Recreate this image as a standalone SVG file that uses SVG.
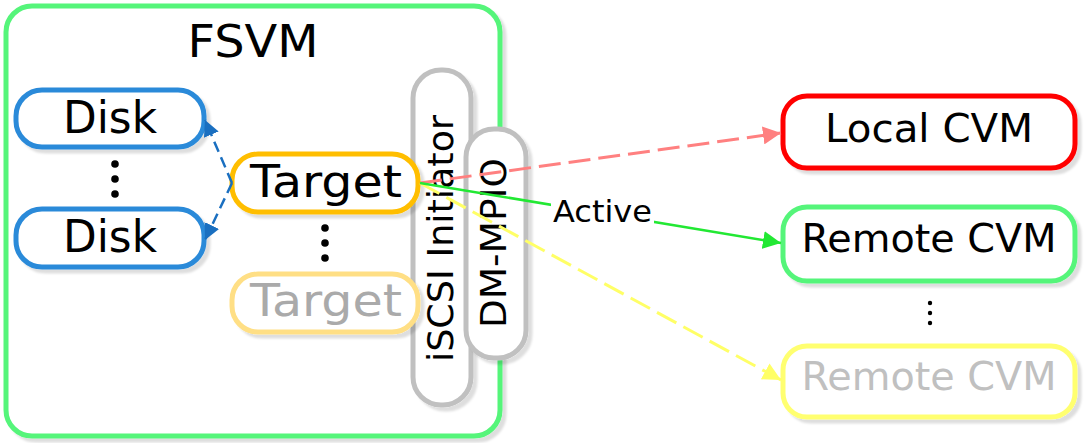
<svg xmlns="http://www.w3.org/2000/svg" width="1084" height="443" viewBox="0 0 1084 443">
<style>
text{font-family:"DejaVu Sans","Liberation Sans",sans-serif;fill:#000;}
.box{fill:#fff;stroke-width:5;filter:url(#sh);}
.dot{fill:#000;}
.faint{fill:#aaaaaa;}
.conn{fill:none;}
</style>
<defs>
<filter id="sh" x="-10%" y="-10%" width="130%" height="130%">
<feDropShadow dx="4" dy="4" stdDeviation="0.8" flood-color="#000" flood-opacity="0.13"/>
</filter>
<marker id="aBlue" viewBox="0 0 10 10" refX="10" refY="5" markerWidth="16" markerHeight="16" markerUnits="userSpaceOnUse" orient="auto"><path d="M0,0 L10,5 L0,10 Z" fill="#1a6fc0"/></marker>
<marker id="aRed" viewBox="0 0 10 10" refX="10" refY="5" markerWidth="18" markerHeight="18" markerUnits="userSpaceOnUse" orient="auto"><path d="M0,0 L10,5 L0,10 Z" fill="#ff8080"/></marker>
<marker id="aGreen" viewBox="0 0 10 10" refX="10" refY="5" markerWidth="18" markerHeight="18" markerUnits="userSpaceOnUse" orient="auto"><path d="M0,0 L10,5 L0,10 Z" fill="#22e833"/></marker>
<marker id="aYellow" viewBox="0 0 10 10" refX="10" refY="5" markerWidth="18" markerHeight="18" markerUnits="userSpaceOnUse" orient="auto"><path d="M0,0 L10,5 L0,10 Z" fill="#ffff66"/></marker>
</defs>

<g id="fsvm">
<rect class="box" x="6" y="6" width="494" height="430" rx="26" stroke="#55f57a"/>
<text x="253" y="57" font-size="44" text-anchor="middle" textLength="131" lengthAdjust="spacingAndGlyphs">FSVM</text>
</g>

<g id="iscsi">
<rect class="box" x="413" y="70" width="58" height="335" rx="28" stroke="#c0c0c0"/>
<text transform="translate(453,238.5) rotate(-90)" font-size="36" text-anchor="middle" textLength="247" lengthAdjust="spacingAndGlyphs">iSCSI Initiator</text>
</g>

<g id="dmmpio">
<rect class="box" x="466" y="129" width="60" height="229" rx="28" stroke="#c0c0c0"/>
<text transform="translate(506,243) rotate(-90)" font-size="36" text-anchor="middle" textLength="170" lengthAdjust="spacingAndGlyphs">DM-MPIO</text>
</g>

<g id="disk1">
<rect class="box" x="16" y="90" width="188" height="57" rx="26" stroke="#2b8ad9"/>
<text x="110" y="133" font-size="45" text-anchor="middle" textLength="94" lengthAdjust="spacingAndGlyphs">Disk</text>
</g>
<g id="disk-dots">
<circle class="dot" cx="115" cy="164" r="3.8"/>
<circle class="dot" cx="115" cy="179" r="3.8"/>
<circle class="dot" cx="115" cy="194" r="3.8"/>
</g>
<g id="disk2">
<rect class="box" x="16" y="209" width="188" height="58" rx="26" stroke="#2b8ad9"/>
<text x="110" y="252" font-size="45" text-anchor="middle" textLength="94" lengthAdjust="spacingAndGlyphs">Disk</text>
</g>

<g id="target1">
<rect class="box" x="232" y="154" width="186" height="58" rx="26" stroke="#ffbe00"/>
<text x="326" y="197" font-size="44" text-anchor="middle" textLength="152" lengthAdjust="spacingAndGlyphs">Target</text>
</g>
<g id="target-dots">
<circle class="dot" cx="325" cy="228" r="3.8"/>
<circle class="dot" cx="325" cy="243" r="3.8"/>
<circle class="dot" cx="325" cy="258" r="3.8"/>
</g>
<g id="target2">
<rect class="box" x="232" y="274" width="186" height="58" rx="26" stroke="#ffdf85"/>
<text class="faint" x="326" y="316" font-size="44" text-anchor="middle" textLength="152" lengthAdjust="spacingAndGlyphs">Target</text>
</g>

<g id="local-cvm">
<rect class="box" x="783" y="96" width="292" height="72" rx="24" stroke="#ff0000"/>
<text x="929" y="142" font-size="39" text-anchor="middle" textLength="208" lengthAdjust="spacingAndGlyphs">Local CVM</text>
</g>

<g id="remote-cvm1">
<rect class="box" x="783" y="207" width="292" height="74" rx="24" stroke="#55f57a"/>
<text x="929" y="252" font-size="39" text-anchor="middle" textLength="255" lengthAdjust="spacingAndGlyphs">Remote CVM</text>
</g>
<g id="cvm-dots">
<circle class="dot" cx="930" cy="303" r="2.2"/>
<circle class="dot" cx="930" cy="313" r="2.2"/>
<circle class="dot" cx="930" cy="323" r="2.2"/>
</g>
<g id="remote-cvm2">
<rect class="box" x="783" y="346" width="292" height="71" rx="24" stroke="#ffff70"/>
<text x="929" y="390" font-size="39" text-anchor="middle" textLength="255" lengthAdjust="spacingAndGlyphs" style="fill:#c0c0c0">Remote CVM</text>
</g>

<g id="connectors">
<path class="conn" d="M232,183 L205,120" stroke="#1a6fc0" stroke-width="2.5" stroke-dasharray="11 6" marker-end="url(#aBlue)"/>
<path class="conn" d="M232,183 L205,240" stroke="#1a6fc0" stroke-width="2.5" stroke-dasharray="11 6" marker-end="url(#aBlue)"/>
<path class="conn" d="M420,183 L781,133" stroke="#ff8080" stroke-width="3" stroke-dasharray="22 8" marker-end="url(#aRed)"/>
<path class="conn" d="M420,183 L781,380" stroke="#ffff66" stroke-width="3" stroke-dasharray="22 8" marker-end="url(#aYellow)"/>
<path class="conn" d="M420,183 L781,243" stroke="#22e833" stroke-width="2.5" marker-end="url(#aGreen)"/>
<rect x="551" y="196" width="103" height="32" fill="#fff"/>
<text x="602.5" y="222" font-size="30" text-anchor="middle" textLength="99" lengthAdjust="spacingAndGlyphs">Active</text>
</g>
</svg>
